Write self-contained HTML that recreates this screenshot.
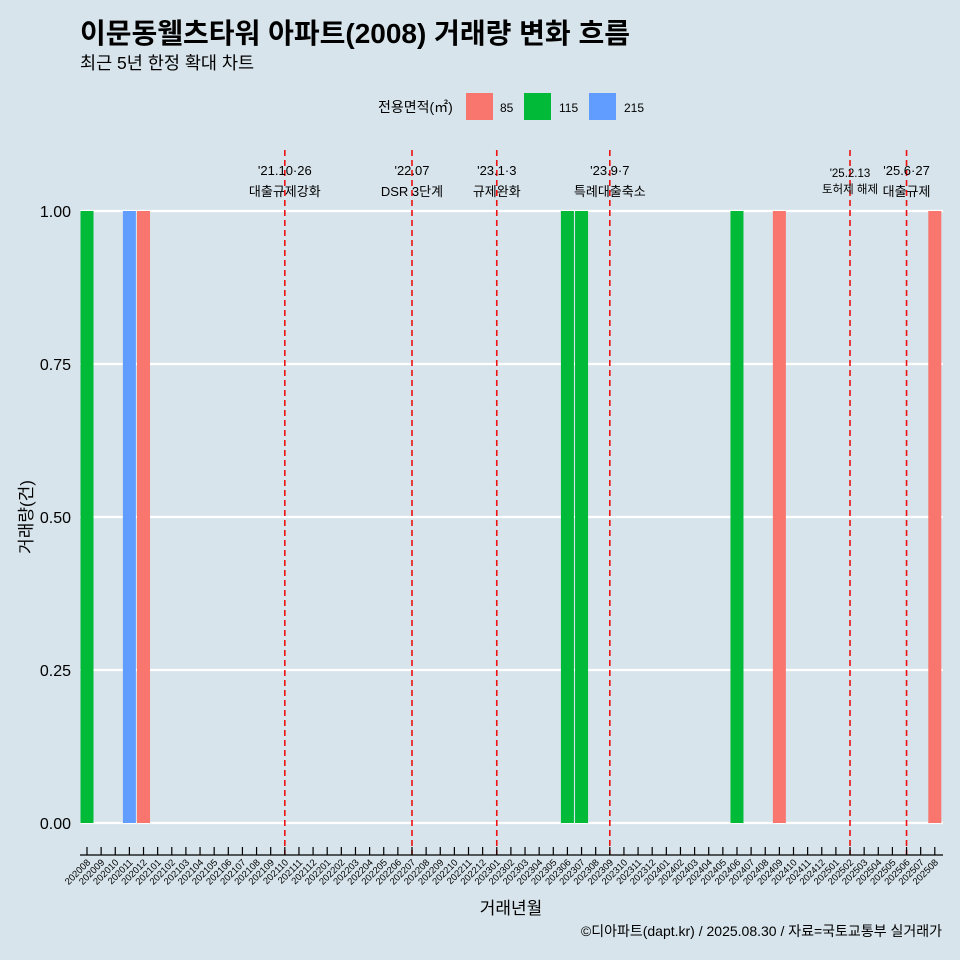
<!DOCTYPE html>
<html><head><meta charset="utf-8"><style>
body{margin:0;background:#d7e4eb;font-family:"Liberation Sans","Noto Sans CJK KR",sans-serif;overflow:hidden;}
svg{display:block;}
svg text{font-family:"Liberation Sans","Noto Sans CJK KR",sans-serif;}
</style></head><body>
<svg id="c" width="960" height="960" xmlns="http://www.w3.org/2000/svg">
<rect width="960" height="960" fill="#d7e4eb"/>
<text x="80" y="43" font-size="28" font-weight="bold" fill="#000">이문동웰츠타워 아파트(2008) 거래량 변화 흐름</text>
<text x="80" y="69" font-size="17.5" fill="#000">최근 5년 한정 확대 차트</text>
<g>
<text x="378" y="112" font-size="14">전용면적(㎡)</text>
<rect x="466" y="93" width="27" height="27" fill="#f8766d"/>
<text x="500" y="112" font-size="12">85</text>
<rect x="524" y="93" width="27" height="27" fill="#00ba38"/>
<text x="559" y="112" font-size="12">115</text>
<rect x="589" y="93" width="27" height="27" fill="#619cff"/>
<text x="624" y="112" font-size="12">215</text>
</g>
<g id="grid"></g><g id="bars"></g><g id="events"></g><g id="axes"></g>
<text x="32" y="517" font-size="17" text-anchor="middle" transform="rotate(-90 32 517)">거래량(건)</text>
<text x="511" y="914" font-size="17" text-anchor="middle">거래년월</text>
<text x="942" y="936" font-size="14" text-anchor="end">©디아파트(dapt.kr) / 2025.08.30 / 자료=국토교통부 실거래가</text>
</svg>
<script>
const months=[];for(let y=2020;y<=2025;y++)for(let m=1;m<=12;m++){const k=y*100+m;if(k>=202008&&k<=202508)months.push(String(k));}
const barMonths=["202008","202011","202012","202306","202307","202406","202409","202508"];
const barSizes=["115","215","85","115","115","115","85","85"];
const barValues=[1,1,1,1,1,1,1,1];
const yTicks=[0,0.25,0.5,0.75,1];
const yTickLabels=["0.00","0.25","0.50","0.75","1.00"];
const eventMonths=["202110","202207","202301","202309","202502","202506"];
const eventDates=["'21.10·26","'22.07","'23.1·3","'23.9·7","'25.2.13","'25.6·27"];
const eventLabels=["대출규제강화","DSR 3단계","규제완화","특례대출축소","토허제 해제","대출규제"];
const colors={"85":"#f8766d","115":"#00ba38","215":"#619cff"};
const NS="http://www.w3.org/2000/svg";
const x=m=>87+months.indexOf(m)*14.13;
const y=v=>823-v*612;
function el(t,a,p){const e=document.createElementNS(NS,t);for(const k in a)e.setAttribute(k,a[k]);document.getElementById(p).appendChild(e);return e;}
yTicks.forEach((v,i)=>{
 const g=el('line',{x1:80,x2:943,y1:y(v),y2:y(v),stroke:'#fff','stroke-width':2.2},'grid');
 
 
 const t=el('text',{x:71,y:y(v)+6,'font-size':16,'text-anchor':'end'},'axes');t.textContent=yTickLabels[i];
 
 
});
barMonths.forEach((m,i)=>{
 const r=el('rect',{x:x(m)-6.5,y:y(barValues[i]),width:13,height:y(0)-y(barValues[i]),fill:colors[barSizes[i]]},'bars');
 
 
});
eventMonths.forEach((m,i)=>{
 const l=el('line',{x1:x(m),x2:x(m),y1:150,y2:855,stroke:'#ee1111','stroke-width':1.6,'stroke-dasharray':'6,4'},'events');
 
 
 const fs=i==4?11.5:13;
 const a=el('text',{x:x(m),y:i==4?177:175,'font-size':fs,'text-anchor':'middle'},'events');a.textContent=eventDates[i];
 
 
 const b=el('text',{x:x(m),y:i==4?193:196,'font-size':fs,'text-anchor':'middle'},'events');b.textContent=eventLabels[i];
 
 
});
const ax=el('line',{x1:80,x2:943,y1:855,y2:855,stroke:'#000','stroke-width':1.3},'axes');


months.forEach(m=>{
 const t=el('line',{x1:x(m),x2:x(m),y1:847,y2:855,stroke:'#000','stroke-width':1.2},'axes');
 
 
 const lb=el('text',{x:x(m)+4,y:863,'font-size':9.5,'text-anchor':'end',transform:`rotate(-45 ${x(m)+4} 863)`},'axes');lb.textContent=m;
 
 
});
</script>
</body></html>
